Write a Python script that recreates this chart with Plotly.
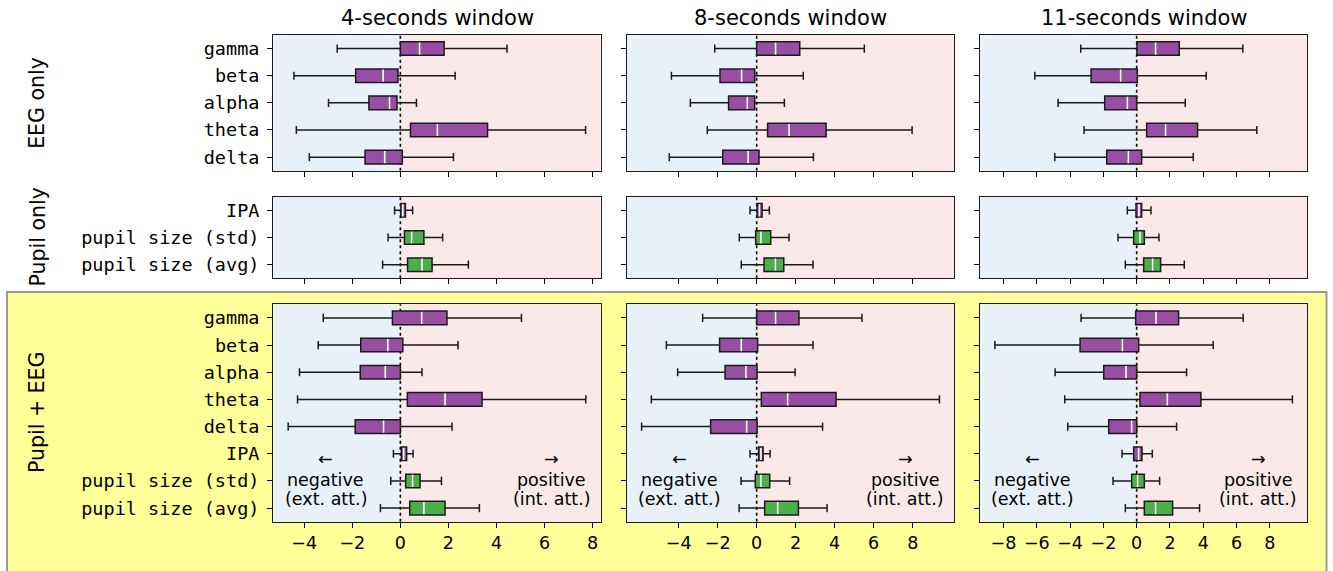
import plotly.graph_objects as go

W, H = 1333, 571

WINDOWS = ["4-seconds window", "8-seconds window", "11-seconds window"]
GROUPS = ["EEG only", "Pupil only", "Pupil + EEG"]
EEG_BANDS = ["gamma", "beta", "alpha", "theta", "delta"]
PUPIL_FEATURES = ["IPA", "pupil size (std)", "pupil size (avg)"]
GROUP_FEATURES = [EEG_BANDS, PUPIL_FEATURES, EEG_BANDS + PUPIL_FEATURES]
X_TICKS = [
    [-4, -2, 0, 2, 4, 6, 8],
    [-4, -2, 0, 2, 4, 6, 8],
    [-8, -6, -4, -2, 0, 2, 4, 6, 8],
]

# Box statistics per feature: (lower whisker, q1, median, q3, upper whisker)
EEG_4S = [
    (-2.63, 0.00, 0.80, 1.82, 4.44),
    (-4.43, -1.86, -0.72, -0.10, 2.28),
    (-2.99, -1.31, -0.45, -0.14, 0.67),
    (-4.33, 0.42, 1.54, 3.63, 7.71),
    (-3.79, -1.47, -0.65, 0.08, 2.21),
]
EEG_8S = [
    (-2.15, 0.00, 0.97, 2.21, 5.52),
    (-4.37, -1.88, -0.77, -0.10, 2.39),
    (-3.40, -1.44, -0.48, -0.10, 1.42),
    (-2.53, 0.56, 1.66, 3.56, 7.97),
    (-4.48, -1.74, -0.44, 0.12, 2.91),
]
EEG_11S = [
    (-3.36, 0.02, 1.14, 2.56, 6.38),
    (-6.12, -2.74, -0.96, 0.04, 4.18),
    (-4.72, -1.92, -0.56, 0.00, 2.92),
    (-3.16, 0.60, 1.74, 3.66, 7.22),
    (-4.92, -1.80, -0.50, 0.30, 3.40),
]
PUPIL_4S = [
    (-0.24, 0.02, 0.10, 0.21, 0.51),
    (-0.51, 0.17, 0.47, 0.98, 1.76),
    (-0.74, 0.30, 0.90, 1.32, 2.83),
]
PUPIL_8S = [
    (-0.34, 0.02, 0.14, 0.28, 0.65),
    (-0.89, -0.05, 0.22, 0.72, 1.66),
    (-0.79, 0.38, 0.96, 1.39, 2.89),
]
PUPIL_11S = [
    (-0.56, -0.04, 0.14, 0.30, 0.86),
    (-1.12, -0.18, 0.20, 0.46, 1.34),
    (-0.68, 0.42, 0.96, 1.44, 2.86),
]
BOTH_4S = [
    (-3.21, -0.33, 0.89, 1.94, 5.04),
    (-3.42, -1.65, -0.52, 0.10, 2.40),
    (-4.20, -1.67, -0.63, 0.00, 0.90),
    (-4.28, 0.29, 1.86, 3.40, 7.72),
    (-4.67, -1.88, -0.70, 0.00, 2.15),
    (-0.29, 0.04, 0.14, 0.26, 0.53),
    (-0.40, 0.22, 0.51, 0.82, 1.71),
    (-0.83, 0.39, 0.98, 1.86, 3.29),
]
BOTH_8S = [
    (-2.77, 0.00, 0.97, 2.17, 5.40),
    (-4.63, -1.90, -0.79, 0.05, 2.89),
    (-4.05, -1.62, -0.55, 0.02, 1.97),
    (-5.40, 0.24, 1.59, 4.07, 9.37),
    (-5.90, -2.36, -0.51, 0.02, 3.38),
    (-0.34, 0.10, 0.22, 0.33, 0.69),
    (-0.80, -0.07, 0.22, 0.67, 1.69),
    (-0.90, 0.41, 1.08, 2.14, 3.61),
]
BOTH_11S = [
    (-3.34, -0.06, 1.16, 2.52, 6.40),
    (-8.52, -3.40, -0.86, 0.12, 4.60),
    (-4.90, -1.98, -0.64, 0.00, 3.00),
    (-4.32, 0.20, 1.84, 3.86, 9.36),
    (-4.14, -1.68, -0.30, 0.00, 2.40),
    (-0.88, -0.18, 0.12, 0.32, 0.94),
    (-1.42, -0.30, 0.06, 0.46, 1.38),
    (-0.68, 0.46, 1.14, 2.16, 3.78),
]

PANELS = [
    [EEG_4S, EEG_8S, EEG_11S],
    [PUPIL_4S, PUPIL_8S, PUPIL_11S],
    [BOTH_4S, BOTH_8S, BOTH_11S],
]

PURPLE = "#984ea3"
GREEN = "#4daf4a"
NEG_BG = "#e9f1f8"
POS_BG = "#fbe9e9"
EDGE = "#1a1a1a"
SANS = "DejaVu Sans"
MONO = "DejaVu Sans Mono"

# panel placement in pixels (left, right) and (top, bottom)
COL_PX = [(273.3, 600.7), (626.7, 954.3), (980.0, 1307.3)]
ROW_PX = [(35.0, 170.7), (196.7, 278.3), (304.3, 521.7)]


def feature_color(name):
    return GREEN if name.startswith("pupil size") else PURPLE


# shared x range per column, padded 5% like an autoscaled axis
col_ranges = []
for c in range(3):
    lo = min(s[0] for r in range(3) for s in PANELS[r][c])
    hi = max(s[4] for r in range(3) for s in PANELS[r][c])
    pad = 0.05 * (hi - lo)
    col_ranges.append((lo - pad, hi + pad))

fig = go.Figure()
layout = dict(
    width=W, height=H,
    margin=dict(l=0, r=0, t=0, b=0),
    paper_bgcolor="white", plot_bgcolor="white",
    showlegend=False,
    font=dict(family=SANS, size=18, color="black"),
)
shapes = []
annotations = []

# highlighted frame behind the combined-features row
shapes.append(dict(
    type="rect", xref="paper", yref="paper",
    x0=7 / W, x1=1326.5 / W, y0=-0.1, y1=1 - 292 / H,
    fillcolor="#ffff99", line=dict(color="#999999", width=2), layer="below",
))

for r in range(3):
    feats = GROUP_FEATURES[r]
    n = len(feats)
    top, bot = ROW_PX[r]
    for c in range(3):
        k = r * 3 + c + 1
        sfx = "" if k == 1 else str(k)
        xa, ya = "x" + sfx, "y" + sfx
        stats = PANELS[r][c]
        x0r, x1r = col_ranges[c]
        left, right = COL_PX[c]

        for i, (name, s) in enumerate(zip(feats, stats)):
            col = feature_color(name)
            fig.add_trace(go.Box(
                y=[i], lowerfence=[s[0]], q1=[s[1]], median=[s[2]],
                q3=[s[3]], upperfence=[s[4]],
                orientation="h", width=0.5, whiskerwidth=0.6,
                fillcolor=col, line=dict(color=EDGE, width=1.5),
                boxpoints=False, name=name, hoverinfo="x+name",
                xaxis=xa, yaxis=ya,
            ))

        # white median markers on top of the boxes
        mx, my = [], []
        for i, s in enumerate(stats):
            mx += [s[2], s[2], None]
            my += [i - 0.225, i + 0.225, None]
        fig.add_trace(go.Scatter(
            x=mx, y=my, mode="lines", line=dict(color="white", width=1.7),
            hoverinfo="skip", xaxis=xa, yaxis=ya,
        ))

        layout["xaxis" + sfx] = dict(
            domain=[left / W, right / W], anchor=ya,
            range=[x0r, x1r], tickvals=X_TICKS[c],
            showticklabels=(r == 2),
            ticks="outside", ticklen=5, tickwidth=1.2, tickcolor="black",
            showline=True, mirror=True, linecolor=EDGE, linewidth=1.3,
            showgrid=False, zeroline=False,
            tickfont=dict(family=SANS, size=17.5, color="black"),
        )
        layout["yaxis" + sfx] = dict(
            domain=[1 - bot / H, 1 - top / H], anchor=xa,
            range=[n - 0.5, -0.5], tickvals=list(range(n)), ticktext=feats,
            showticklabels=(c == 0), ticklabelstandoff=4,
            ticks="outside", ticklen=5, tickwidth=1.2, tickcolor="black",
            showline=True, mirror=True, linecolor=EDGE, linewidth=1.3,
            showgrid=False, zeroline=False,
            tickfont=dict(family=MONO, size=18.5, color="black"),
        )

        yd = ya + " domain"
        shapes.append(dict(type="rect", xref=xa, yref=yd, x0=x0r, x1=0, y0=0, y1=1,
                           fillcolor=NEG_BG, line=dict(width=0), layer="below"))
        shapes.append(dict(type="rect", xref=xa, yref=yd, x0=0, x1=x1r, y0=0, y1=1,
                           fillcolor=POS_BG, line=dict(width=0), layer="below"))
        shapes.append(dict(type="line", xref=xa, yref=yd, x0=0, x1=0, y0=0, y1=1,
                           line=dict(color="black", width=1.6, dash="dot"), layer="below"))

        if r == 2:
            xd = xa + " domain"
            for xf, lines in ((0.16, ["←", "negative", "(ext. att.)"]),
                              (0.85, ["→", "positive", "(int. att.)"])):
                for yf, txt in zip((0.287, 0.192, 0.104), lines):
                    annotations.append(dict(
                        xref=xd, yref=yd, x=xf, y=yf, text=txt, showarrow=False,
                        xanchor="center", yanchor="middle",
                        font=dict(family=SANS, size=17.5, color="black"),
                    ))

# column titles
for c, title in enumerate(WINDOWS):
    left, right = COL_PX[c]
    annotations.append(dict(
        xref="paper", yref="paper", x=(left + right) / 2 / W, y=1 - 18 / H,
        text=title, showarrow=False, xanchor="center", yanchor="middle",
        font=dict(family=SANS, size=21, color="black"),
    ))

# row labels
for r, label in enumerate(GROUPS):
    top, bot = ROW_PX[r]
    annotations.append(dict(
        xref="paper", yref="paper", x=37 / W, y=1 - (top + bot) / 2 / H,
        text=label, showarrow=False, textangle=-90,
        xanchor="center", yanchor="middle",
        font=dict(family=SANS, size=20.5, color="black"),
    ))

layout["shapes"] = shapes
layout["annotations"] = annotations
fig.update_layout(**layout)
fig.write_html("out.html")
